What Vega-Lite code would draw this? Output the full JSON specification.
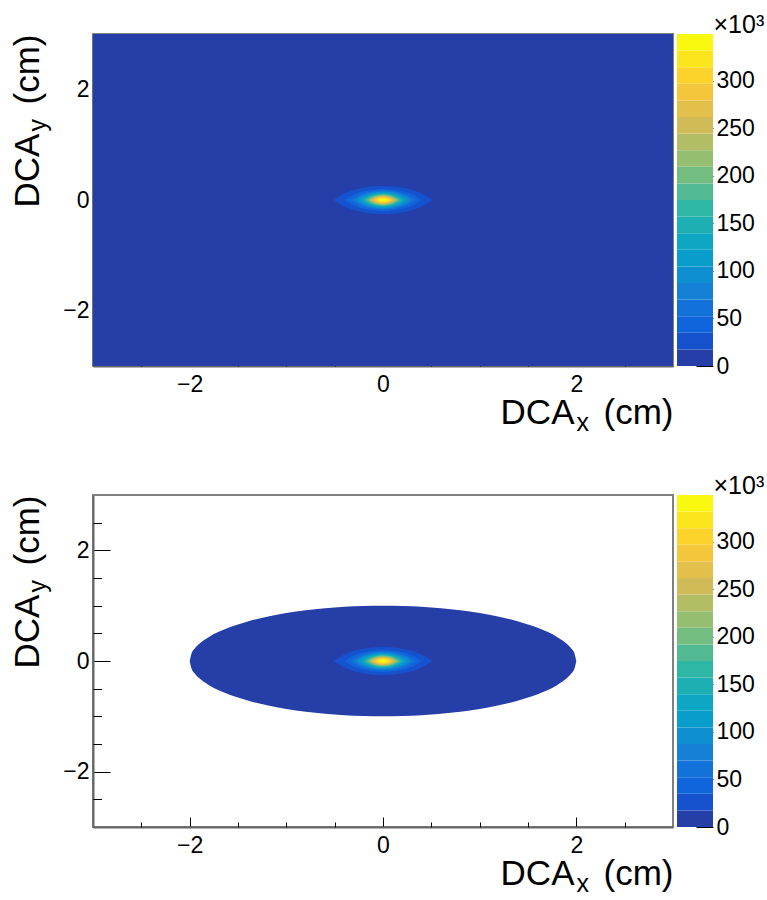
{
  "$schema": "https://vega.github.io/schema/vega-lite/v6.json",
  "background": "white",
  "padding": {"left": 9, "top": 12, "right": 0, "bottom": 0},
  "config": {
    "font": "Liberation Sans",
    "axis": {"grid": false, "labelFont": "Liberation Sans", "titleFont": "Liberation Sans", "labelFontSize": 23, "titleFontSize": 35, "titleFontWeight": "normal", "labelColor": "#000", "titleColor": "#000", "tickColor": "#000", "domainColor": "#666", "domainWidth": 2, "tickWidth": 1, "zindex": 1, "labelOverlap": false, "labelFlush": false},
    "view": {"stroke": "#808080", "strokeWidth": 2}
  },
  "datasets": {
    "full": [{"x": -3, "lo": -3, "hi": 3, "c": 5000}, {"x": 3, "lo": -3, "hi": 3, "c": 5000}],
    "ell": [
      {"x": -2, "lo": 0, "hi": 0, "c": 5000}, {"x": -1.98, "lo": -0.141, "hi": 0.141, "c": 5000}, {"x": -1.95, "lo": -0.222, "hi": 0.222, "c": 5000}, {"x": -1.9, "lo": -0.312, "hi": 0.312, "c": 5000}, {"x": -1.85, "lo": -0.38, "hi": 0.38, "c": 5000}, {"x": -1.8, "lo": -0.436, "hi": 0.436, "c": 5000}, {"x": -1.7, "lo": -0.527, "hi": 0.527, "c": 5000}, {"x": -1.6, "lo": -0.6, "hi": 0.6, "c": 5000}, {"x": -1.5, "lo": -0.661, "hi": 0.661, "c": 5000}, {"x": -1.4, "lo": -0.714, "hi": 0.714, "c": 5000}, {"x": -1.2, "lo": -0.8, "hi": 0.8, "c": 5000}, {"x": -1.0, "lo": -0.866, "hi": 0.866, "c": 5000}, {"x": -0.8, "lo": -0.917, "hi": 0.917, "c": 5000}, {"x": -0.6, "lo": -0.954, "hi": 0.954, "c": 5000}, {"x": -0.4, "lo": -0.98, "hi": 0.98, "c": 5000}, {"x": -0.2, "lo": -0.995, "hi": 0.995, "c": 5000}, {"x": 0, "lo": -1, "hi": 1, "c": 5000},
      {"x": 0.2, "lo": -0.995, "hi": 0.995, "c": 5000}, {"x": 0.4, "lo": -0.98, "hi": 0.98, "c": 5000}, {"x": 0.6, "lo": -0.954, "hi": 0.954, "c": 5000}, {"x": 0.8, "lo": -0.917, "hi": 0.917, "c": 5000}, {"x": 1.0, "lo": -0.866, "hi": 0.866, "c": 5000}, {"x": 1.2, "lo": -0.8, "hi": 0.8, "c": 5000}, {"x": 1.4, "lo": -0.714, "hi": 0.714, "c": 5000}, {"x": 1.5, "lo": -0.661, "hi": 0.661, "c": 5000}, {"x": 1.6, "lo": -0.6, "hi": 0.6, "c": 5000}, {"x": 1.7, "lo": -0.527, "hi": 0.527, "c": 5000}, {"x": 1.8, "lo": -0.436, "hi": 0.436, "c": 5000}, {"x": 1.85, "lo": -0.38, "hi": 0.38, "c": 5000}, {"x": 1.9, "lo": -0.312, "hi": 0.312, "c": 5000}, {"x": 1.95, "lo": -0.222, "hi": 0.222, "c": 5000}, {"x": 1.98, "lo": -0.141, "hi": 0.141, "c": 5000}, {"x": 2, "lo": 0, "hi": 0, "c": 5000}
    ],
    "spot": [
      {"k": 1, "c": 26175, "x": -0.51, "lo": 0, "hi": 0}, {"k": 1, "c": 26175, "x": -0.3825, "lo": -0.1316, "hi": 0.1316}, {"k": 1, "c": 26175, "x": -0.255, "lo": -0.2027, "hi": 0.2027}, {"k": 1, "c": 26175, "x": -0.1275, "lo": -0.2423, "hi": 0.2423}, {"k": 1, "c": 26175, "x": 0, "lo": -0.255, "hi": 0.255}, {"k": 1, "c": 26175, "x": 0.1275, "lo": -0.2423, "hi": 0.2423}, {"k": 1, "c": 26175, "x": 0.255, "lo": -0.2027, "hi": 0.2027}, {"k": 1, "c": 26175, "x": 0.3825, "lo": -0.1316, "hi": 0.1316}, {"k": 1, "c": 26175, "x": 0.51, "lo": 0, "hi": 0},
      {"k": 2, "c": 43625, "x": -0.4, "lo": 0, "hi": 0}, {"k": 2, "c": 43625, "x": -0.3, "lo": -0.1032, "hi": 0.1032}, {"k": 2, "c": 43625, "x": -0.2, "lo": -0.159, "hi": 0.159}, {"k": 2, "c": 43625, "x": -0.1, "lo": -0.19, "hi": 0.19}, {"k": 2, "c": 43625, "x": 0, "lo": -0.2, "hi": 0.2}, {"k": 2, "c": 43625, "x": 0.1, "lo": -0.19, "hi": 0.19}, {"k": 2, "c": 43625, "x": 0.2, "lo": -0.159, "hi": 0.159}, {"k": 2, "c": 43625, "x": 0.3, "lo": -0.1032, "hi": 0.1032}, {"k": 2, "c": 43625, "x": 0.4, "lo": 0, "hi": 0},
      {"k": 3, "c": 61075, "x": -0.34, "lo": 0, "hi": 0}, {"k": 3, "c": 61075, "x": -0.255, "lo": -0.0903, "hi": 0.0903}, {"k": 3, "c": 61075, "x": -0.17, "lo": -0.1391, "hi": 0.1391}, {"k": 3, "c": 61075, "x": -0.085, "lo": -0.1663, "hi": 0.1663}, {"k": 3, "c": 61075, "x": 0, "lo": -0.175, "hi": 0.175}, {"k": 3, "c": 61075, "x": 0.085, "lo": -0.1663, "hi": 0.1663}, {"k": 3, "c": 61075, "x": 0.17, "lo": -0.1391, "hi": 0.1391}, {"k": 3, "c": 61075, "x": 0.255, "lo": -0.0903, "hi": 0.0903}, {"k": 3, "c": 61075, "x": 0.34, "lo": 0, "hi": 0},
      {"k": 4, "c": 78525, "x": -0.3, "lo": 0, "hi": 0}, {"k": 4, "c": 78525, "x": -0.225, "lo": -0.0826, "hi": 0.0826}, {"k": 4, "c": 78525, "x": -0.15, "lo": -0.1272, "hi": 0.1272}, {"k": 4, "c": 78525, "x": -0.075, "lo": -0.152, "hi": 0.152}, {"k": 4, "c": 78525, "x": 0, "lo": -0.16, "hi": 0.16}, {"k": 4, "c": 78525, "x": 0.075, "lo": -0.152, "hi": 0.152}, {"k": 4, "c": 78525, "x": 0.15, "lo": -0.1272, "hi": 0.1272}, {"k": 4, "c": 78525, "x": 0.225, "lo": -0.0826, "hi": 0.0826}, {"k": 4, "c": 78525, "x": 0.3, "lo": 0, "hi": 0},
      {"k": 5, "c": 95975, "x": -0.27, "lo": 0, "hi": 0}, {"k": 5, "c": 95975, "x": -0.2025, "lo": -0.0764, "hi": 0.0764}, {"k": 5, "c": 95975, "x": -0.135, "lo": -0.1177, "hi": 0.1177}, {"k": 5, "c": 95975, "x": -0.0675, "lo": -0.1406, "hi": 0.1406}, {"k": 5, "c": 95975, "x": 0, "lo": -0.148, "hi": 0.148}, {"k": 5, "c": 95975, "x": 0.0675, "lo": -0.1406, "hi": 0.1406}, {"k": 5, "c": 95975, "x": 0.135, "lo": -0.1177, "hi": 0.1177}, {"k": 5, "c": 95975, "x": 0.2025, "lo": -0.0764, "hi": 0.0764}, {"k": 5, "c": 95975, "x": 0.27, "lo": 0, "hi": 0},
      {"k": 6, "c": 113425, "x": -0.245, "lo": 0, "hi": 0}, {"k": 6, "c": 113425, "x": -0.184, "lo": -0.0707, "hi": 0.0707}, {"k": 6, "c": 113425, "x": -0.1225, "lo": -0.1089, "hi": 0.1089}, {"k": 6, "c": 113425, "x": -0.061, "lo": -0.1302, "hi": 0.1302}, {"k": 6, "c": 113425, "x": 0, "lo": -0.137, "hi": 0.137}, {"k": 6, "c": 113425, "x": 0.061, "lo": -0.1302, "hi": 0.1302}, {"k": 6, "c": 113425, "x": 0.1225, "lo": -0.1089, "hi": 0.1089}, {"k": 6, "c": 113425, "x": 0.184, "lo": -0.0707, "hi": 0.0707}, {"k": 6, "c": 113425, "x": 0.245, "lo": 0, "hi": 0},
      {"k": 7, "c": 130875, "x": -0.225, "lo": 0, "hi": 0}, {"k": 7, "c": 130875, "x": -0.169, "lo": -0.065, "hi": 0.065}, {"k": 7, "c": 130875, "x": -0.1125, "lo": -0.1002, "hi": 0.1002}, {"k": 7, "c": 130875, "x": -0.056, "lo": -0.1197, "hi": 0.1197}, {"k": 7, "c": 130875, "x": 0, "lo": -0.126, "hi": 0.126}, {"k": 7, "c": 130875, "x": 0.056, "lo": -0.1197, "hi": 0.1197}, {"k": 7, "c": 130875, "x": 0.1125, "lo": -0.1002, "hi": 0.1002}, {"k": 7, "c": 130875, "x": 0.169, "lo": -0.065, "hi": 0.065}, {"k": 7, "c": 130875, "x": 0.225, "lo": 0, "hi": 0},
      {"k": 8, "c": 148325, "x": -0.205, "lo": 0, "hi": 0}, {"k": 8, "c": 148325, "x": -0.154, "lo": -0.0593, "hi": 0.0593}, {"k": 8, "c": 148325, "x": -0.1025, "lo": -0.0914, "hi": 0.0914}, {"k": 8, "c": 148325, "x": -0.051, "lo": -0.1093, "hi": 0.1093}, {"k": 8, "c": 148325, "x": 0, "lo": -0.115, "hi": 0.115}, {"k": 8, "c": 148325, "x": 0.051, "lo": -0.1093, "hi": 0.1093}, {"k": 8, "c": 148325, "x": 0.1025, "lo": -0.0914, "hi": 0.0914}, {"k": 8, "c": 148325, "x": 0.154, "lo": -0.0593, "hi": 0.0593}, {"k": 8, "c": 148325, "x": 0.205, "lo": 0, "hi": 0},
      {"k": 9, "c": 165775, "x": -0.19, "lo": 0, "hi": 0}, {"k": 9, "c": 165775, "x": -0.095, "lo": -0.085, "hi": 0.085}, {"k": 9, "c": 165775, "x": 0, "lo": -0.107, "hi": 0.107}, {"k": 9, "c": 165775, "x": 0.095, "lo": -0.085, "hi": 0.085}, {"k": 9, "c": 165775, "x": 0.19, "lo": 0, "hi": 0},
      {"k": 10, "c": 183225, "x": -0.175, "lo": 0, "hi": 0}, {"k": 10, "c": 183225, "x": -0.0875, "lo": -0.0787, "hi": 0.0787}, {"k": 10, "c": 183225, "x": 0, "lo": -0.099, "hi": 0.099}, {"k": 10, "c": 183225, "x": 0.0875, "lo": -0.0787, "hi": 0.0787}, {"k": 10, "c": 183225, "x": 0.175, "lo": 0, "hi": 0},
      {"k": 11, "c": 200675, "x": -0.16, "lo": 0, "hi": 0}, {"k": 11, "c": 200675, "x": -0.08, "lo": -0.0723, "hi": 0.0723}, {"k": 11, "c": 200675, "x": 0, "lo": -0.091, "hi": 0.091}, {"k": 11, "c": 200675, "x": 0.08, "lo": -0.0723, "hi": 0.0723}, {"k": 11, "c": 200675, "x": 0.16, "lo": 0, "hi": 0},
      {"k": 12, "c": 218125, "x": -0.148, "lo": 0, "hi": 0}, {"k": 12, "c": 218125, "x": -0.074, "lo": -0.0668, "hi": 0.0668}, {"k": 12, "c": 218125, "x": 0, "lo": -0.084, "hi": 0.084}, {"k": 12, "c": 218125, "x": 0.074, "lo": -0.0668, "hi": 0.0668}, {"k": 12, "c": 218125, "x": 0.148, "lo": 0, "hi": 0},
      {"k": 13, "c": 235575, "x": -0.135, "lo": 0, "hi": 0}, {"k": 13, "c": 235575, "x": -0.0675, "lo": -0.0612, "hi": 0.0612}, {"k": 13, "c": 235575, "x": 0, "lo": -0.077, "hi": 0.077}, {"k": 13, "c": 235575, "x": 0.0675, "lo": -0.0612, "hi": 0.0612}, {"k": 13, "c": 235575, "x": 0.135, "lo": 0, "hi": 0},
      {"k": 14, "c": 253025, "x": -0.123, "lo": 0, "hi": 0}, {"k": 14, "c": 253025, "x": -0.0615, "lo": -0.0557, "hi": 0.0557}, {"k": 14, "c": 253025, "x": 0, "lo": -0.07, "hi": 0.07}, {"k": 14, "c": 253025, "x": 0.0615, "lo": -0.0557, "hi": 0.0557}, {"k": 14, "c": 253025, "x": 0.123, "lo": 0, "hi": 0},
      {"k": 15, "c": 270475, "x": -0.11, "lo": 0, "hi": 0}, {"k": 15, "c": 270475, "x": -0.055, "lo": -0.0501, "hi": 0.0501}, {"k": 15, "c": 270475, "x": 0, "lo": -0.063, "hi": 0.063}, {"k": 15, "c": 270475, "x": 0.055, "lo": -0.0501, "hi": 0.0501}, {"k": 15, "c": 270475, "x": 0.11, "lo": 0, "hi": 0},
      {"k": 16, "c": 287925, "x": -0.097, "lo": 0, "hi": 0}, {"k": 16, "c": 287925, "x": -0.0485, "lo": -0.0445, "hi": 0.0445}, {"k": 16, "c": 287925, "x": 0, "lo": -0.056, "hi": 0.056}, {"k": 16, "c": 287925, "x": 0.0485, "lo": -0.0445, "hi": 0.0445}, {"k": 16, "c": 287925, "x": 0.097, "lo": 0, "hi": 0},
      {"k": 17, "c": 305375, "x": -0.082, "lo": 0, "hi": 0}, {"k": 17, "c": 305375, "x": -0.041, "lo": -0.0374, "hi": 0.0374}, {"k": 17, "c": 305375, "x": 0, "lo": -0.047, "hi": 0.047}, {"k": 17, "c": 305375, "x": 0.041, "lo": -0.0374, "hi": 0.0374}, {"k": 17, "c": 305375, "x": 0.082, "lo": 0, "hi": 0},
      {"k": 18, "c": 322825, "x": -0.065, "lo": 0, "hi": 0}, {"k": 18, "c": 322825, "x": -0.0325, "lo": -0.0302, "hi": 0.0302}, {"k": 18, "c": 322825, "x": 0, "lo": -0.038, "hi": 0.038}, {"k": 18, "c": 322825, "x": 0.0325, "lo": -0.0302, "hi": 0.0302}, {"k": 18, "c": 322825, "x": 0.065, "lo": 0, "hi": 0},
      {"k": 19, "c": 340275, "x": -0.04, "lo": 0, "hi": 0}, {"k": 19, "c": 340275, "x": -0.02, "lo": -0.0191, "hi": 0.0191}, {"k": 19, "c": 340275, "x": 0, "lo": -0.024, "hi": 0.024}, {"k": 19, "c": 340275, "x": 0.02, "lo": -0.0191, "hi": 0.0191}, {"k": 19, "c": 340275, "x": 0.04, "lo": 0, "hi": 0}
    ],
    "bar": [
      {"lo": 0, "hi": 17450, "c": 8725}, {"lo": 17450, "hi": 34900, "c": 26175}, {"lo": 34900, "hi": 52350, "c": 43625}, {"lo": 52350, "hi": 69800, "c": 61075}, {"lo": 69800, "hi": 87250, "c": 78525}, {"lo": 87250, "hi": 104700, "c": 95975}, {"lo": 104700, "hi": 122150, "c": 113425}, {"lo": 122150, "hi": 139600, "c": 130875}, {"lo": 139600, "hi": 157050, "c": 148325}, {"lo": 157050, "hi": 174500, "c": 165775},
      {"lo": 174500, "hi": 191950, "c": 183225}, {"lo": 191950, "hi": 209400, "c": 200675}, {"lo": 209400, "hi": 226850, "c": 218125}, {"lo": 226850, "hi": 244300, "c": 235575}, {"lo": 244300, "hi": 261750, "c": 253025}, {"lo": 261750, "hi": 279200, "c": 270475}, {"lo": 279200, "hi": 296650, "c": 287925}, {"lo": 296650, "hi": 314100, "c": 305375}, {"lo": 314100, "hi": 331550, "c": 322825}, {"lo": 331550, "hi": 349000, "c": 340275}
    ]
  },
  "columns": 2,
  "spacing": {"row": 129, "column": 4},
  "bounds": "flush",
  "align": "each",
  "concat": [
    {
      "width": 580, "height": 332,
      "layer": [
        {
          "data": {"name": "full"},
          "mark": {"type": "area", "interpolate": "linear"},
          "encoding": {
            "x": {"field": "x", "type": "quantitative", "scale": {"domain": [-3, 3], "nice": false, "zero": false}, "axis": {"orient": "bottom", "values": [-2, 0, 2], "tickSize": -10, "labelPadding": 17, "title": "DCA", "titleX": 481, "titleY": 57, "titleAlign": "right", "titleBaseline": "alphabetic", "titleAngle": 0}},
            "y": {"field": "hi", "type": "quantitative", "scale": {"domain": [-3, 3], "nice": false, "zero": false}, "axis": {"orient": "left", "values": [-2, 0, 2], "tickSize": -17, "labelPadding": 21, "title": "DCA", "titleAngle": 270, "titleX": -55, "titleY": 173, "titleAlign": "left", "titleBaseline": "alphabetic"}},
            "y2": {"field": "lo"},
            "color": {"field": "c", "type": "quantitative", "legend": null, "scale": {"type": "threshold", "domain": [17450, 34900, 52350, 69800, 87250, 104700, 122150, 139600, 157050, 174500, 191950, 209400, 226850, 244300, 261750, 279200, 296650, 314100, 331550], "range": ["#263ea8", "#1652cd", "#1064dc", "#1272d9", "#1481d6", "#0e8fd1", "#099dcc", "#0da7c3", "#1eafb3", "#2eb7a4", "#52ba92", "#74bd81", "#95be71", "#b3bd65", "#d1bb59", "#e2c04b", "#f4c63b", "#fdd22b", "#fbe61d", "#f9f90f"]}}
          }
        },
        {
          "data": {"name": "spot"},
          "transform": [{"filter": "datum.k <= 10"}],
          "mark": {"type": "area", "interpolate": "monotone"},
          "encoding": {
            "x": {"field": "x", "type": "quantitative", "scale": {"domain": [-3, 3], "nice": false, "zero": false}, "axis": {"orient": "bottom", "values": [-2.5, -1.5, -1, -0.5, 0.5, 1, 1.5, 2.5], "tickSize": -5, "labels": false, "domain": false, "title": "x", "titleFontSize": 25, "titleX": 483, "titleY": 64, "titleAlign": "left", "titleBaseline": "alphabetic", "titleAngle": 0}},
            "y": {"field": "hi", "type": "quantitative", "scale": {"domain": [-3, 3], "nice": false, "zero": false}, "axis": {"orient": "left", "values": [-2.5, -1.5, -1, -0.5, 0.5, 1, 1.5, 2.5], "tickSize": -8.5, "labels": false, "domain": false, "title": "y", "titleFontSize": 25, "titleAngle": 270, "titleX": -48, "titleY": 97, "titleAlign": "left", "titleBaseline": "alphabetic"}},
            "y2": {"field": "lo"},
            "detail": {"field": "k"},
            "color": {"field": "c", "type": "quantitative", "legend": null, "scale": {"type": "threshold", "domain": [17450, 34900, 52350, 69800, 87250, 104700, 122150, 139600, 157050, 174500, 191950, 209400, 226850, 244300, 261750, 279200, 296650, 314100, 331550], "range": ["#263ea8", "#1652cd", "#1064dc", "#1272d9", "#1481d6", "#0e8fd1", "#099dcc", "#0da7c3", "#1eafb3", "#2eb7a4", "#52ba92", "#74bd81", "#95be71", "#b3bd65", "#d1bb59", "#e2c04b", "#f4c63b", "#fdd22b", "#fbe61d", "#f9f90f"]}}
          }
        },
        {
          "data": {"name": "spot"},
          "transform": [{"filter": "datum.k > 10"}],
          "mark": {"type": "area", "interpolate": "monotone"},
          "encoding": {
            "x": {"field": "x", "type": "quantitative", "scale": {"domain": [-3, 3], "nice": false, "zero": false}, "axis": {"orient": "bottom", "ticks": false, "labels": false, "domain": false, "title": "(cm)", "titleX": 580, "titleY": 57, "titleAlign": "right", "titleBaseline": "alphabetic", "titleAngle": 0}},
            "y": {"field": "hi", "type": "quantitative", "scale": {"domain": [-3, 3], "nice": false, "zero": false}, "axis": {"orient": "left", "ticks": false, "labels": false, "domain": false, "title": "(cm)", "titleAngle": 270, "titleX": -55, "titleY": 0, "titleAlign": "right", "titleBaseline": "alphabetic"}},
            "y2": {"field": "lo"},
            "detail": {"field": "k"},
            "color": {"field": "c", "type": "quantitative", "legend": null, "scale": {"type": "threshold", "domain": [17450, 34900, 52350, 69800, 87250, 104700, 122150, 139600, 157050, 174500, 191950, 209400, 226850, 244300, 261750, 279200, 296650, 314100, 331550], "range": ["#263ea8", "#1652cd", "#1064dc", "#1272d9", "#1481d6", "#0e8fd1", "#099dcc", "#0da7c3", "#1eafb3", "#2eb7a4", "#52ba92", "#74bd81", "#95be71", "#b3bd65", "#d1bb59", "#e2c04b", "#f4c63b", "#fdd22b", "#fbe61d", "#f9f90f"]}}
          }
        }
      ],
      "resolve": {"axis": {"x": "independent", "y": "independent"}}
    },
    {
      "width": 36, "height": 332,
      "view": {"stroke": null},
      "data": {"name": "bar"},
      "mark": {"type": "rect"},
      "encoding": {
        "y": {"field": "lo", "type": "quantitative", "scale": {"domain": [0, 349000], "nice": false, "zero": false}, "axis": {"orient": "right", "values": [0, 50000, 100000, 150000, 200000, 250000, 300000], "labelExpr": "datum.value / 1000", "tickSize": -17, "labelPadding": 20, "domain": false, "labelAlign": "left", "labelBaseline": "middle", "title": "×10³", "titleFontSize": 25, "titleAngle": 0, "titleX": 0, "titleY": -2, "titleAlign": "left", "titleBaseline": "alphabetic"}},
        "y2": {"field": "hi"},
        "color": {"field": "c", "type": "quantitative", "legend": null, "scale": {"type": "threshold", "domain": [17450, 34900, 52350, 69800, 87250, 104700, 122150, 139600, 157050, 174500, 191950, 209400, 226850, 244300, 261750, 279200, 296650, 314100, 331550], "range": ["#263ea8", "#1652cd", "#1064dc", "#1272d9", "#1481d6", "#0e8fd1", "#099dcc", "#0da7c3", "#1eafb3", "#2eb7a4", "#52ba92", "#74bd81", "#95be71", "#b3bd65", "#d1bb59", "#e2c04b", "#f4c63b", "#fdd22b", "#fbe61d", "#f9f90f"]}}
      }
    },
    {
      "width": 580, "height": 332,
      "layer": [
        {
          "data": {"name": "ell"},
          "mark": {"type": "area", "interpolate": "monotone"},
          "encoding": {
            "x": {"field": "x", "type": "quantitative", "scale": {"domain": [-3, 3], "nice": false, "zero": false}, "axis": {"orient": "bottom", "values": [-2, 0, 2], "tickSize": -10, "labelPadding": 17, "title": "DCA", "titleX": 481, "titleY": 57, "titleAlign": "right", "titleBaseline": "alphabetic", "titleAngle": 0}},
            "y": {"field": "hi", "type": "quantitative", "scale": {"domain": [-3, 3], "nice": false, "zero": false}, "axis": {"orient": "left", "values": [-2, 0, 2], "tickSize": -17, "labelPadding": 21, "title": "DCA", "titleAngle": 270, "titleX": -55, "titleY": 173, "titleAlign": "left", "titleBaseline": "alphabetic"}},
            "y2": {"field": "lo"},
            "color": {"field": "c", "type": "quantitative", "legend": null, "scale": {"type": "threshold", "domain": [17450, 34900, 52350, 69800, 87250, 104700, 122150, 139600, 157050, 174500, 191950, 209400, 226850, 244300, 261750, 279200, 296650, 314100, 331550], "range": ["#263ea8", "#1652cd", "#1064dc", "#1272d9", "#1481d6", "#0e8fd1", "#099dcc", "#0da7c3", "#1eafb3", "#2eb7a4", "#52ba92", "#74bd81", "#95be71", "#b3bd65", "#d1bb59", "#e2c04b", "#f4c63b", "#fdd22b", "#fbe61d", "#f9f90f"]}}
          }
        },
        {
          "data": {"name": "spot"},
          "transform": [{"filter": "datum.k <= 10"}],
          "mark": {"type": "area", "interpolate": "monotone"},
          "encoding": {
            "x": {"field": "x", "type": "quantitative", "scale": {"domain": [-3, 3], "nice": false, "zero": false}, "axis": {"orient": "bottom", "values": [-2.5, -1.5, -1, -0.5, 0.5, 1, 1.5, 2.5], "tickSize": -5, "labels": false, "domain": false, "title": "x", "titleFontSize": 25, "titleX": 483, "titleY": 64, "titleAlign": "left", "titleBaseline": "alphabetic", "titleAngle": 0}},
            "y": {"field": "hi", "type": "quantitative", "scale": {"domain": [-3, 3], "nice": false, "zero": false}, "axis": {"orient": "left", "values": [-2.5, -1.5, -1, -0.5, 0.5, 1, 1.5, 2.5], "tickSize": -8.5, "labels": false, "domain": false, "title": "y", "titleFontSize": 25, "titleAngle": 270, "titleX": -48, "titleY": 97, "titleAlign": "left", "titleBaseline": "alphabetic"}},
            "y2": {"field": "lo"},
            "detail": {"field": "k"},
            "color": {"field": "c", "type": "quantitative", "legend": null, "scale": {"type": "threshold", "domain": [17450, 34900, 52350, 69800, 87250, 104700, 122150, 139600, 157050, 174500, 191950, 209400, 226850, 244300, 261750, 279200, 296650, 314100, 331550], "range": ["#263ea8", "#1652cd", "#1064dc", "#1272d9", "#1481d6", "#0e8fd1", "#099dcc", "#0da7c3", "#1eafb3", "#2eb7a4", "#52ba92", "#74bd81", "#95be71", "#b3bd65", "#d1bb59", "#e2c04b", "#f4c63b", "#fdd22b", "#fbe61d", "#f9f90f"]}}
          }
        },
        {
          "data": {"name": "spot"},
          "transform": [{"filter": "datum.k > 10"}],
          "mark": {"type": "area", "interpolate": "monotone"},
          "encoding": {
            "x": {"field": "x", "type": "quantitative", "scale": {"domain": [-3, 3], "nice": false, "zero": false}, "axis": {"orient": "bottom", "ticks": false, "labels": false, "domain": false, "title": "(cm)", "titleX": 580, "titleY": 57, "titleAlign": "right", "titleBaseline": "alphabetic", "titleAngle": 0}},
            "y": {"field": "hi", "type": "quantitative", "scale": {"domain": [-3, 3], "nice": false, "zero": false}, "axis": {"orient": "left", "ticks": false, "labels": false, "domain": false, "title": "(cm)", "titleAngle": 270, "titleX": -55, "titleY": 0, "titleAlign": "right", "titleBaseline": "alphabetic"}},
            "y2": {"field": "lo"},
            "detail": {"field": "k"},
            "color": {"field": "c", "type": "quantitative", "legend": null, "scale": {"type": "threshold", "domain": [17450, 34900, 52350, 69800, 87250, 104700, 122150, 139600, 157050, 174500, 191950, 209400, 226850, 244300, 261750, 279200, 296650, 314100, 331550], "range": ["#263ea8", "#1652cd", "#1064dc", "#1272d9", "#1481d6", "#0e8fd1", "#099dcc", "#0da7c3", "#1eafb3", "#2eb7a4", "#52ba92", "#74bd81", "#95be71", "#b3bd65", "#d1bb59", "#e2c04b", "#f4c63b", "#fdd22b", "#fbe61d", "#f9f90f"]}}
          }
        }
      ],
      "resolve": {"axis": {"x": "independent", "y": "independent"}}
    },
    {
      "width": 36, "height": 332,
      "view": {"stroke": null},
      "data": {"name": "bar"},
      "mark": {"type": "rect"},
      "encoding": {
        "y": {"field": "lo", "type": "quantitative", "scale": {"domain": [0, 349000], "nice": false, "zero": false}, "axis": {"orient": "right", "values": [0, 50000, 100000, 150000, 200000, 250000, 300000], "labelExpr": "datum.value / 1000", "tickSize": -17, "labelPadding": 20, "domain": false, "labelAlign": "left", "labelBaseline": "middle", "title": "×10³", "titleFontSize": 25, "titleAngle": 0, "titleX": 0, "titleY": -2, "titleAlign": "left", "titleBaseline": "alphabetic"}},
        "y2": {"field": "hi"},
        "color": {"field": "c", "type": "quantitative", "legend": null, "scale": {"type": "threshold", "domain": [17450, 34900, 52350, 69800, 87250, 104700, 122150, 139600, 157050, 174500, 191950, 209400, 226850, 244300, 261750, 279200, 296650, 314100, 331550], "range": ["#263ea8", "#1652cd", "#1064dc", "#1272d9", "#1481d6", "#0e8fd1", "#099dcc", "#0da7c3", "#1eafb3", "#2eb7a4", "#52ba92", "#74bd81", "#95be71", "#b3bd65", "#d1bb59", "#e2c04b", "#f4c63b", "#fdd22b", "#fbe61d", "#f9f90f"]}}
      }
    }
  ]
}
